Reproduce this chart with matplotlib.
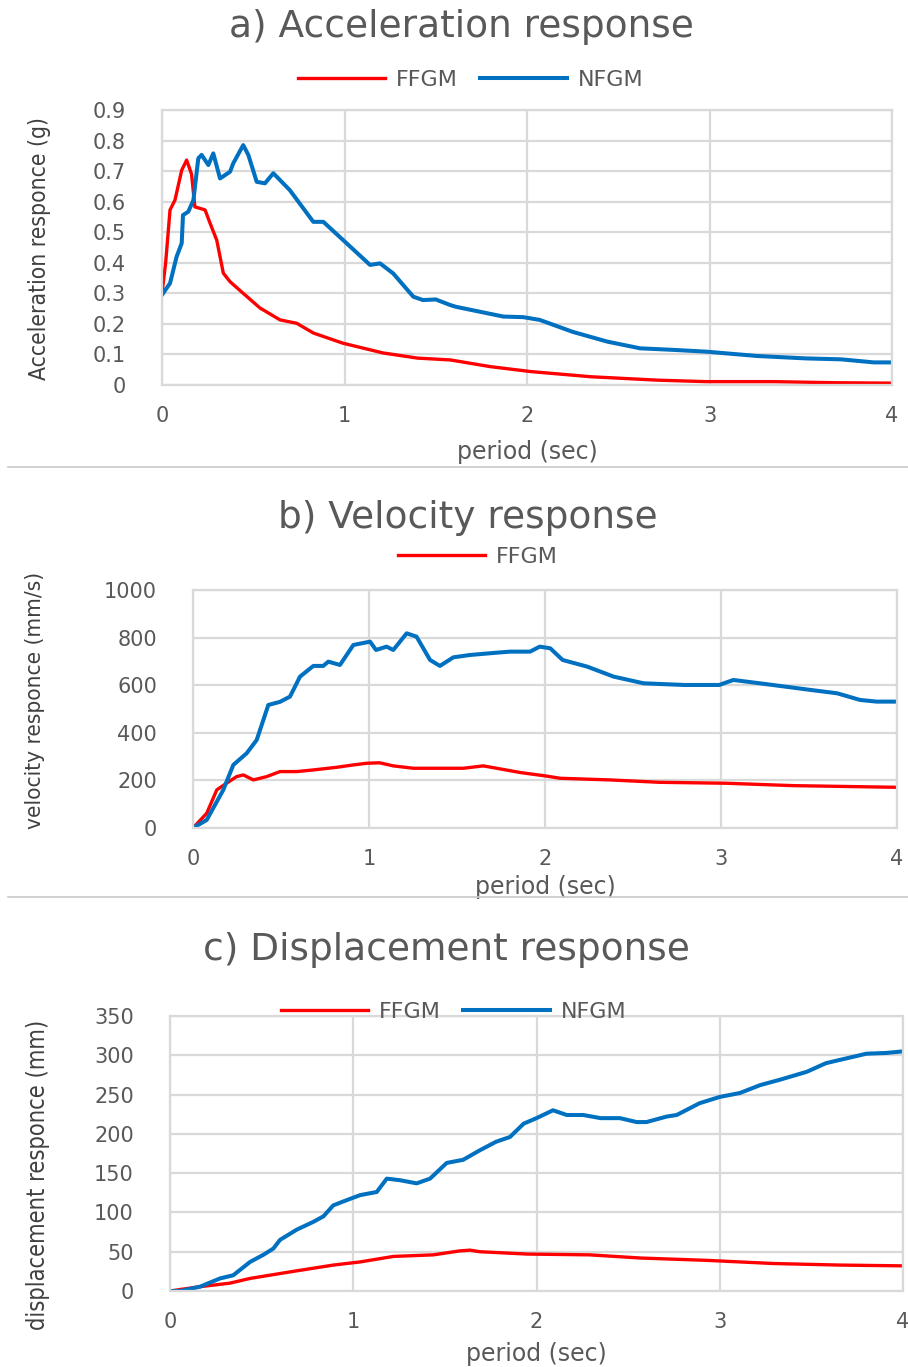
import matplotlib
matplotlib.use("Agg")
import matplotlib.pyplot as plt
from matplotlib.lines import Line2D

# ---------------- data ----------------
acc_ffgm_T = [0, 0.02, 0.044, 0.071, 0.108, 0.135, 0.162, 0.18, 0.236, 0.263, 0.3, 0.336, 0.373, 0.445,
              0.537, 0.647, 0.738, 0.83, 0.99, 1.21, 1.40, 1.58, 1.80, 2.02, 2.35, 2.71, 2.98, 3.35, 3.68, 4.0]
acc_ffgm = [0.30, 0.40, 0.573, 0.605, 0.703, 0.736, 0.69, 0.583, 0.573, 0.53, 0.474, 0.366, 0.338, 0.30,
            0.252, 0.213, 0.202, 0.17, 0.137, 0.105, 0.088, 0.082, 0.06, 0.044, 0.027, 0.016, 0.011, 0.011,
            0.0075, 0.006]
acc_nfgm_T = [0, 0.044, 0.08, 0.108, 0.115, 0.144, 0.172, 0.199, 0.217, 0.254, 0.281, 0.318, 0.373, 0.39,
              0.445, 0.473, 0.519, 0.564, 0.61, 0.70, 0.829, 0.884, 0.993, 1.14, 1.195, 1.267, 1.377, 1.43,
              1.50, 1.578, 1.61, 1.87, 1.98, 2.07, 2.25, 2.44, 2.62, 2.80, 2.985, 3.26, 3.53, 3.72, 3.90, 4.0]
acc_nfgm = [0.295, 0.333, 0.42, 0.464, 0.556, 0.567, 0.605, 0.742, 0.753, 0.72, 0.758, 0.676, 0.698, 0.725,
            0.785, 0.753, 0.665, 0.66, 0.693, 0.638, 0.534, 0.534, 0.474, 0.393, 0.398, 0.365, 0.289, 0.278,
            0.28, 0.262, 0.256, 0.224, 0.222, 0.213, 0.174, 0.142, 0.12, 0.115, 0.109, 0.095, 0.087, 0.084,
            0.074, 0.074]

vel_nfgm_T = [0, 0.078, 0.172, 0.229, 0.305, 0.362, 0.428, 0.494, 0.551, 0.608, 0.684, 0.74, 0.769, 0.835,
              0.911, 1.006, 1.04, 1.10, 1.138, 1.214, 1.27, 1.347, 1.403, 1.479, 1.574, 1.70, 1.80, 1.915,
              1.97, 2.03, 2.10, 2.24, 2.39, 2.56, 2.79, 2.99, 3.07, 3.22, 3.51, 3.66, 3.79, 3.885, 4.0]
vel_nfgm = [0, 34, 160, 265, 314, 370, 517, 530, 552, 636, 681, 681, 699, 685, 769, 783, 748, 762, 748, 818,
            804, 706, 681, 717, 727, 735, 741, 741, 762, 755, 706, 678, 636, 608, 601, 601, 622, 608, 580,
            566, 538, 531, 531]
vel_ffgm_T = [0, 0.078, 0.135, 0.19, 0.248, 0.286, 0.343, 0.419, 0.494, 0.589, 0.684, 0.816, 0.911, 0.987,
              1.06, 1.138, 1.252, 1.536, 1.65, 1.86, 2.01, 2.085, 2.37, 2.65, 3.03, 3.41, 4.0]
vel_ffgm = [0, 62, 160, 188, 216, 223, 202, 216, 237, 237, 244, 255, 265, 272, 274, 261, 251, 251, 261, 233,
            218, 209, 202, 192, 188, 178, 171]

dis_nfgm_T = [0, 0.055, 0.164, 0.273, 0.345, 0.437, 0.509, 0.564, 0.60, 0.691, 0.782, 0.837, 0.891, 0.946,
              1.037, 1.128, 1.183, 1.255, 1.346, 1.419, 1.51, 1.60, 1.69, 1.78, 1.855, 1.93, 2.00, 2.09,
              2.165, 2.255, 2.35, 2.455, 2.547, 2.60, 2.71, 2.765, 2.89, 3.0, 3.11, 3.22, 3.33, 3.475, 3.58,
              3.69, 3.80, 3.91, 4.0]
dis_nfgm = [0, 0, 5.5, 16, 20, 37, 46, 54, 65, 78, 88, 95, 109, 114, 122, 126, 143, 141, 137, 143, 163, 167,
            179, 190, 196, 213, 220, 230, 224, 224, 220, 220, 215, 215, 222, 224, 239, 247, 252, 262, 269,
            279, 290, 296, 302, 303, 305]
dis_ffgm_T = [0, 0.164, 0.327, 0.437, 0.673, 0.891, 1.037, 1.219, 1.437, 1.58, 1.637, 1.69, 1.95, 2.29,
              2.565, 2.93, 3.29, 3.656, 4.0]
dis_ffgm = [0, 5.5, 10, 16, 25, 33, 37, 44, 46, 51, 52, 50, 47, 46, 42, 39, 35, 33, 32]

x_ticks = [0, 1, 2, 3, 4]
acc_ticks = [0, 0.1, 0.2, 0.3, 0.4, 0.5, 0.6, 0.7, 0.8, 0.9]
acc_ticklabels = ["0", "0.1", "0.2", "0.3", "0.4", "0.5", "0.6", "0.7", "0.8", "0.9"]
vel_ticks = [0, 200, 400, 600, 800, 1000]
dis_ticks = [0, 50, 100, 150, 200, 250, 300, 350]

# ---------------- style ----------------
W, H = 908, 1367
RED = "#FF0000"
BLUE = "#0070C0"
GRID = "#d9d9d9"
TXT = "#595959"

fig = plt.figure(figsize=(W / 100, H / 100), dpi=100)
fig.patch.set_facecolor("white")


def px_axes(l, r, t, b):
    return fig.add_axes([l / W, 1 - b / H, (r - l) / W, (b - t) / H])


def style(ax, yticks, ylim, ylabels=None):
    ax.set_xlim(0, 4)
    ax.set_ylim(*ylim)
    ax.set_xticks(x_ticks)
    ax.set_xticklabels([str(t) for t in x_ticks])
    ax.set_yticks(yticks)
    if ylabels is None:
        ylabels = [str(t) for t in yticks]
    ax.set_yticklabels(ylabels)
    ax.grid(True, color=GRID, lw=1.6)
    ax.set_axisbelow(True)
    for s in ax.spines.values():
        s.set_color(GRID)
        s.set_linewidth(1.6)
    ax.tick_params(length=0, labelsize=15, labelcolor=TXT)
    ax.tick_params(axis="y", pad=26)
    ax.tick_params(axis="x", pad=15)


ylab_font = dict(family="DejaVu Sans", stretch="condensed", color="#404040")

# ---------------- a) acceleration ----------------
ax1 = px_axes(162, 892, 110, 385)
l1, = ax1.plot(acc_ffgm_T, acc_ffgm, color=RED, lw=2.4, solid_joinstyle="round", label="FFGM")
l2, = ax1.plot(acc_nfgm_T, acc_nfgm, color=BLUE, lw=2.9, solid_joinstyle="round", label="NFGM")
style(ax1, acc_ticks, (0, 0.9), acc_ticklabels)
ax1.set_xlabel("period (sec)", fontsize=17, color=TXT, va="center")
ax1.xaxis.set_label_coords(0.5, (385 - 452) / 275)
ax1.set_ylabel("Acceleration responce (g)", fontsize=16.4, va="center", **ylab_font)
ax1.yaxis.set_label_coords((40 - 162) / 730, (385 - 248) / 275)
ax1.legend(handles=[l1, l2], loc="center", bbox_to_anchor=(471 / W, 1 - 80 / H),
           bbox_transform=fig.transFigure, ncol=2, frameon=False, fontsize=16,
           handlelength=3.9, handletextpad=0.5, columnspacing=1.0, labelcolor=TXT)
fig.text(461 / W, 1 - 27 / H, "a) Acceleration response", ha="center", va="center",
         fontsize=27, color=TXT)

# ---------------- b) velocity ----------------
ax2 = px_axes(193, 897, 590, 828)
l3, = ax2.plot(vel_ffgm_T, vel_ffgm, color=RED, lw=2.4, solid_joinstyle="round", label="FFGM")
l4, = ax2.plot(vel_nfgm_T, vel_nfgm, color=BLUE, lw=2.9, solid_joinstyle="round")
style(ax2, vel_ticks, (0, 1000))
ax2.set_xlabel("period (sec)", fontsize=17, color=TXT, va="center")
ax2.xaxis.set_label_coords(0.5, (828 - 887) / 238)
ax2.set_ylabel("velocity responce (mm/s)", fontsize=16.2, va="center", **ylab_font)
ax2.yaxis.set_label_coords((35 - 193) / 704, (828 - 700) / 238)
ax2.legend(handles=[l3], loc="center", bbox_to_anchor=(478 / W, 1 - 557 / H),
           bbox_transform=fig.transFigure, ncol=1, frameon=False, fontsize=16,
           handlelength=3.9, handletextpad=0.5, labelcolor=TXT)
fig.text(468 / W, 1 - 518 / H, "b) Velocity response", ha="center", va="center",
         fontsize=27, color=TXT)

# ---------------- c) displacement ----------------
ax3 = px_axes(170, 903, 1016, 1291)
l5, = ax3.plot(dis_ffgm_T, dis_ffgm, color=RED, lw=2.4, solid_joinstyle="round", label="FFGM")
l6, = ax3.plot(dis_nfgm_T, dis_nfgm, color=BLUE, lw=2.9, solid_joinstyle="round", label="NFGM")
style(ax3, dis_ticks, (0, 350))
ax3.set_xlabel("period (sec)", fontsize=17, color=TXT, va="center")
ax3.xaxis.set_label_coords(0.5, (1291 - 1354) / 275)
ax3.set_ylabel("displacement responce (mm)", fontsize=17, va="center", **ylab_font)
ax3.yaxis.set_label_coords((38 - 170) / 733, (1291 - 1175) / 275)
ax3.legend(handles=[l5, l6], loc="center", bbox_to_anchor=(454 / W, 1 - 1012 / H),
           bbox_transform=fig.transFigure, ncol=2, frameon=False, fontsize=16,
           handlelength=3.9, handletextpad=0.5, columnspacing=1.0, labelcolor=TXT)
fig.text(446 / W, 1 - 950 / H, "c) Displacement response", ha="center", va="center",
         fontsize=27, color=TXT)

# separators between the three chart blocks
for yy in (467, 897):
    fig.add_artist(Line2D([8 / W, 1.0], [1 - yy / H, 1 - yy / H], transform=fig.transFigure,
                          color="#c8c8c8", lw=1.2))

fig.savefig("out.png", dpi=100, facecolor="white")
